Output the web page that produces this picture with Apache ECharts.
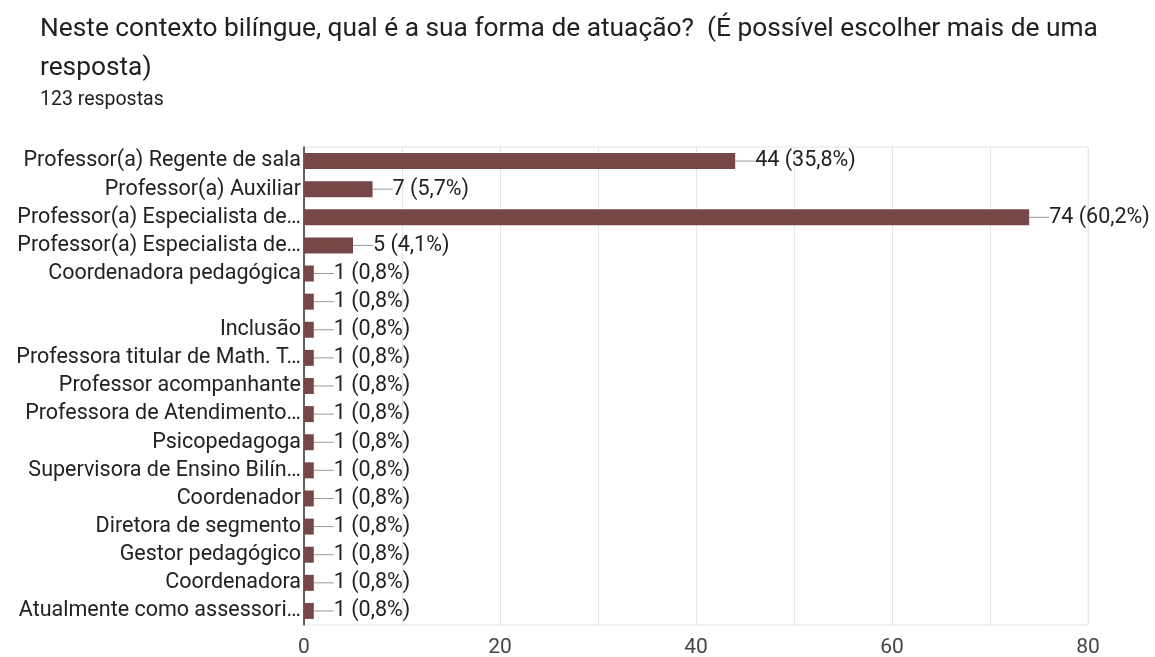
<!DOCTYPE html>
<html>
<head>
<meta charset="utf-8">
<script src="https://cdn.jsdelivr.net/npm/echarts@6/dist/echarts.min.js"></script>
<style>
  html, body { margin: 0; padding: 0; background: #fff; }
  #chart { width: 1155px; height: 657px; }
</style>
</head>
<body>
<div id="chart"></div>
<script>
const categories = [
  'Professor(a) Regente de sala',
  'Professor(a) Auxiliar',
  'Professor(a) Especialista de…',
  'Professor(a) Especialista de…',
  'Coordenadora pedagógica',
  '',
  'Inclusão',
  'Professora titular de Math. T…',
  'Professor acompanhante',
  'Professora de Atendimento…',
  'Psicopedagoga',
  'Supervisora de Ensino Bilín…',
  'Coordenador',
  'Diretora de segmento',
  'Gestor pedagógico',
  'Coordenadora',
  'Atualmente como assessori…'
]
const values = [44, 7, 74, 5, 1, 1, 1, 1, 1, 1, 1, 1, 1, 1, 1, 1, 1]
const percents = ['35,8%', '5,7%', '60,2%', '4,1%', '0,8%', '0,8%', '0,8%', '0,8%', '0,8%',
  '0,8%', '0,8%', '0,8%', '0,8%', '0,8%', '0,8%', '0,8%', '0,8%']
const xTicks = [0, 20, 40, 60, 80]

const chart = echarts.init(document.getElementById('chart'))
chart.setOption({
  backgroundColor: '#fff',
  animation: false,
  textStyle: { fontFamily: 'Roboto' },
  graphic: [
    { type: 'text', left: 40, top: 16, style: { text: 'Neste contexto bilíngue, qual é a sua forma de atuação?  (É possível escolher mais de uma', font: '26.3px Roboto', fill: '#202124' } },
    { type: 'text', left: 40, top: 55, style: { text: 'resposta)', font: '26.3px Roboto', fill: '#202124' } },
    { type: 'text', left: 40, top: 90, style: { text: '123 respostas', font: '19.5px Roboto', fill: '#202124' } }
  ],
  grid: {
    left: 304, right: 67, top: 147, bottom: 32,
    outerBoundsMode: 'none', containLabel: false,
    show: true, borderColor: '#e6e6e6', borderWidth: 1
  },
  xAxis: {
    type: 'value', min: xTicks[0], max: xTicks[xTicks.length - 1], interval: 20,
    axisLine: { show: false }, axisTick: { show: false },
    axisLabel: { fontSize: 21, color: '#444', margin: 12 },
    splitLine: { lineStyle: { color: '#e6e6e6' } },
    minorTick: { show: false, splitNumber: 2 },
    minorSplitLine: { show: true, lineStyle: { color: '#e6e6e6' } }
  },
  yAxis: {
    type: 'category', data: categories, inverse: true,
    axisLine: { lineStyle: { color: '#333', width: 1.5 } },
    axisTick: { show: false },
    axisLabel: { fontSize: 21.5, color: '#222', margin: 3, interval: 0 }
  },
  series: [{
    type: 'bar',
    data: values,
    barWidth: 16,
    itemStyle: { color: '#774747' },
    label: {
      show: true, position: 'right', distance: 0,
      fontSize: 21.5, color: '#222',
      formatter: p => p.value + ' (' + percents[p.dataIndex] + ')'
    },
    labelLayout: { dx: 20 },
    labelLine: { show: true, lineStyle: { color: '#999', width: 1 } }
  }]
})
</script>
</body>
</html>
